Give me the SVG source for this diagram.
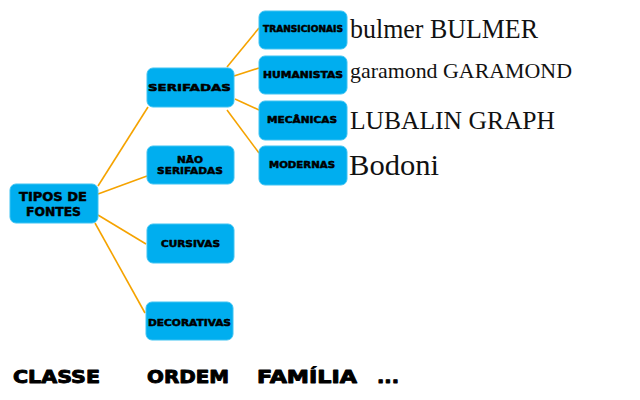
<svg xmlns="http://www.w3.org/2000/svg" width="640" height="400" viewBox="0 0 640 400">
<style>
.box{fill:#00AEEF;stroke:#3FC3F2;stroke-width:1}
.lbl{font-family:"DejaVu Sans",Lato,sans-serif;font-weight:bold;fill:#000;stroke:#000;stroke-width:0.5;stroke-linejoin:round;text-anchor:start}
.conn line{stroke:#F5A300;stroke-width:1.6;fill:none}
.sample{font-family:"Liberation Serif","DejaVu Serif",serif;fill:#111}
.foot{font-family:"DejaVu Sans",Lato,sans-serif;font-weight:bold;font-size:17px;fill:#000;stroke:#000;stroke-width:0.9;stroke-linejoin:round}
</style>
<rect width="640" height="400" fill="#fff"/>
<g class="conn">
<line x1="98" y1="186" x2="148" y2="107"/>
<line x1="98" y1="194" x2="147" y2="176"/>
<line x1="98" y1="215" x2="146" y2="244"/>
<line x1="95" y1="223" x2="145" y2="313"/>
<line x1="227" y1="67" x2="259" y2="28"/>
<line x1="234" y1="76" x2="259" y2="68"/>
<line x1="235" y1="99" x2="259" y2="110"/>
<line x1="227" y1="110" x2="259" y2="153"/>
</g>
<g id="tipos">
<rect class="box" x="10" y="184" width="88" height="39" rx="6"/>
<text class="lbl" x="19" y="201" font-size="12.5" textLength="68" lengthAdjust="spacingAndGlyphs">TIPOS DE</text>
<text class="lbl" x="26" y="216" font-size="12.5" textLength="55" lengthAdjust="spacingAndGlyphs">FONTES</text>
</g>
<g id="serifadas">
<rect class="box" x="147" y="68" width="87" height="39" rx="6"/>
<text class="lbl" x="148" y="91" font-size="9.5" textLength="83" lengthAdjust="spacingAndGlyphs">SERIFADAS</text>
</g>
<g id="nao-serifadas">
<rect class="box" x="147" y="146" width="87" height="38" rx="6"/>
<text class="lbl" x="177" y="163" font-size="9.5" textLength="26" lengthAdjust="spacingAndGlyphs">NÃO</text>
<text class="lbl" x="157" y="174" font-size="9.5" textLength="66" lengthAdjust="spacingAndGlyphs">SERIFADAS</text>
</g>
<g id="cursivas">
<rect class="box" x="147" y="224" width="87" height="39" rx="6"/>
<text class="lbl" x="161" y="247" font-size="8.5" textLength="59" lengthAdjust="spacingAndGlyphs">CURSIVAS</text>
</g>
<g id="decorativas">
<rect class="box" x="146" y="302" width="87" height="38" rx="6"/>
<text class="lbl" x="148" y="326" font-size="8.5" textLength="83" lengthAdjust="spacingAndGlyphs">DECORATIVAS</text>
</g>
<g id="transicionais">
<rect class="box" x="259" y="11" width="88" height="38" rx="6"/>
<text class="lbl" x="263" y="32" font-size="8" textLength="80" lengthAdjust="spacingAndGlyphs">TRANSICIONAIS</text>
</g>
<g id="humanistas">
<rect class="box" x="259" y="56" width="88" height="38" rx="6"/>
<text class="lbl" x="263" y="78" font-size="8.5" textLength="80" lengthAdjust="spacingAndGlyphs">HUMANISTAS</text>
</g>
<g id="mecanicas">
<rect class="box" x="259" y="101" width="88" height="39" rx="6"/>
<text class="lbl" x="267" y="123" font-size="8.5" textLength="70" lengthAdjust="spacingAndGlyphs">MECÂNICAS</text>
</g>
<g id="modernas">
<rect class="box" x="259" y="146" width="88" height="39" rx="6"/>
<text class="lbl" x="269" y="168" font-size="8.5" textLength="66" lengthAdjust="spacingAndGlyphs">MODERNAS</text>
</g>
<g id="samples">
<text class="sample" x="350" y="38" font-size="27" textLength="188" lengthAdjust="spacingAndGlyphs">bulmer BULMER</text>
<text class="sample" x="350" y="78" font-size="22" textLength="222" lengthAdjust="spacingAndGlyphs">garamond GARAMOND</text>
<text class="sample" x="350" y="129" font-size="26" textLength="205" lengthAdjust="spacingAndGlyphs">LUBALIN GRAPH</text>
<text class="sample" x="349" y="175" font-size="30" textLength="90" lengthAdjust="spacingAndGlyphs">Bodoni</text>
</g>
<g id="footer">
<text class="foot" x="13" y="383" textLength="87" lengthAdjust="spacingAndGlyphs">CLASSE</text>
<text class="foot" x="147" y="383" textLength="82" lengthAdjust="spacingAndGlyphs">ORDEM</text>
<text class="foot" x="257" y="383" textLength="100" lengthAdjust="spacingAndGlyphs">FAMÍLIA</text>
<text class="foot" x="377" y="383" textLength="22" lengthAdjust="spacingAndGlyphs">...</text>
</g>
</svg>
